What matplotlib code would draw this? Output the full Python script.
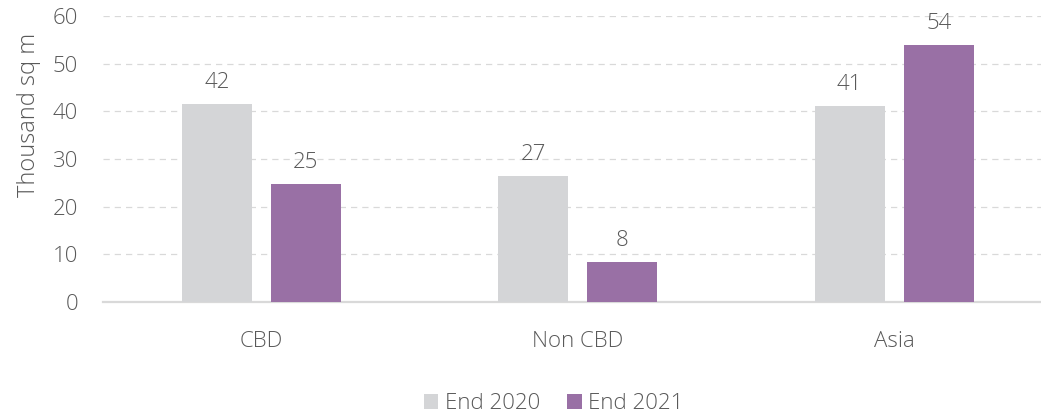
import matplotlib
matplotlib.use("Agg")
import matplotlib.pyplot as plt
import numpy as np

categories = ["CBD", "Non CBD", "Asia"]
series_names = ["End 2020", "End 2021"]
end_2020 = [41.6, 26.5, 41.1]
end_2021 = [24.7, 8.3, 53.9]
labels_2020 = ["42", "27", "41"]
labels_2021 = ["25", "8", "54"]

plt.rcParams['font.family'] = ['Open Sans', 'DejaVu Sans']
plt.rcParams['font.weight'] = 'light'
plt.rcParams['axes.labelweight'] = 'light'

text_color = "#595959"
grid_color = "#D9D9D9"
gray = "#D4D5D7"
purple = "#9970A5"
fs = 16

fig = plt.figure(figsize=(10.41, 4.16), dpi=100)
ax = fig.add_axes([0.099, 0.274, 0.912, 0.6875])

x = np.arange(len(categories))
w = 0.221
off = 0.1406
b1 = ax.bar(x - off, end_2020, w, color=gray, label=series_names[0], zorder=3)
b2 = ax.bar(x + off, end_2021, w, color=purple, label=series_names[1], zorder=3)

for bars, labs in ((b1, labels_2020), (b2, labels_2021)):
    for rect, lab in zip(bars, labs):
        ax.annotate(lab, (rect.get_x() + rect.get_width() / 2, rect.get_height()),
                    xytext=(0, 8), textcoords="offset points", ha="center", va="bottom",
                    fontsize=fs, color=text_color)

ax.set_xlim(-0.5, 2.5)
ax.set_ylim(0, 60)
ax.set_yticks(range(0, 61, 10))
ax.set_xticks(x)
ax.set_xticklabels(categories)
ax.tick_params(axis="both", length=0, labelsize=fs, labelcolor=text_color)
ax.tick_params(axis="x", pad=21)
ax.tick_params(axis="y", pad=18)

ax.yaxis.grid(True, color=grid_color, linestyle=(0, (5, 4)), linewidth=0.9, zorder=0)
for s in ("top", "right", "left"):
    ax.spines[s].set_visible(False)
ax.spines["bottom"].set_color(grid_color)
ax.spines["bottom"].set_linewidth(1.6)

ax.set_ylabel("Thousand sq m", fontsize=17, color=text_color, fontweight="light")
ax.yaxis.set_label_coords(-0.065, 0.655)

fig.legend(handles=[b1, b2], labels=series_names, loc="center", bbox_to_anchor=(0.532, 0.03),
           ncol=2, frameon=False, fontsize=fs, handlelength=0.65, handleheight=0.65,
           handletextpad=0.3, columnspacing=1.2, labelcolor=text_color)

fig.savefig("out.png", dpi=100)
